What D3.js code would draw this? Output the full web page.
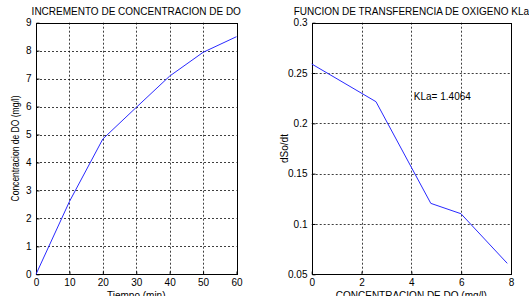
<!DOCTYPE html>
<html><head><meta charset="utf-8">
<script src="https://cdn.jsdelivr.net/npm/d3@7"></script>
<style>
html,body{margin:0;padding:0;background:#fff;}
svg{display:block;}
text{font-family:"Liberation Sans",Arial,Helvetica,sans-serif;fill:#000;}
</style></head><body>
<svg id="c" width="529" height="296"></svg>
<script>
// ---- data ----
const timeMin = [0, 10, 20, 30, 40, 50, 60];
const doConc = [0, 2.6, 4.84, 5.97, 7.09, 7.94, 8.5];
const leftXTicks = [0, 10, 20, 30, 40, 50, 60];
const leftYTicks = [0, 1, 2, 3, 4, 5, 6, 7, 8, 9];

const doX = [0, 2.58, 4.78, 5.99, 7.85];
const dSodt = [0.259, 0.2215, 0.1205, 0.1102, 0.0609];
const rightXTicks = [0, 2, 4, 6, 8];
const rightYTicks = [0.05, 0.1, 0.15, 0.2, 0.25, 0.3];
const rightYLabels = ["0.05", "0.1", "0.15", "0.2", "0.25", "0.3"];

const titles = ["INCREMENTO DE CONCENTRACION DE DO", "FUNCION DE TRANSFERENCIA DE OXIGENO KLa"];
const xLabels = ["Tiempo (min)", "CONCENTRACION DE DO (mg/l)"];
const yLabels = ["Concentracion de DO (mg/l)", "dSo/dt"];
const annotation = "KLa= 1.4064";

const svg = d3.select("#c");

function panel(cfg) {
  const x = d3.scaleLinear().domain(cfg.xDomain).range([cfg.x0, cfg.x1]);
  const y = d3.scaleLinear().domain(cfg.yDomain).range([cfg.y0, cfg.y1]);
  const g = svg.append("g");
  // grid
  g.append("g").selectAll("line").data(cfg.xTicks.slice(1, -1)).join("line")
    .attr("x1", d => Math.round(x(d)) + 0.5).attr("x2", d => Math.round(x(d)) + 0.5)
    .attr("y1", cfg.y1).attr("y2", cfg.y0)
    .attr("stroke", "#000").attr("stroke-width", 1).attr("stroke-dasharray", "2,2").attr("opacity", 0.75);
  g.append("g").selectAll("line").data(cfg.yTicks.slice(1, -1)).join("line")
    .attr("y1", d => Math.round(y(d)) + 0.5).attr("y2", d => Math.round(y(d)) + 0.5)
    .attr("x1", cfg.x0).attr("x2", cfg.x1)
    .attr("stroke", "#000").attr("stroke-width", 1).attr("stroke-dasharray", "2,2").attr("opacity", 0.75);
  // axes via d3 axis
  const ax = d3.axisBottom(x).tickValues(cfg.xTicks).tickSize(-3).tickPadding(6).tickFormat(d3.format("d"));
  const ay = d3.axisLeft(y).tickValues(cfg.yTicks).tickSize(-3).tickPadding(5).tickFormat((d, i) => cfg.yLabels[i]);
  const gx = g.append("g").attr("transform", `translate(0,${Math.round(cfg.y0) + 0.5})`).call(ax);
  const gy = g.append("g").attr("transform", `translate(${Math.round(cfg.x0) + 0.5},0)`).call(ay);
  [gx, gy].forEach(a => {
    a.select(".domain").remove();
    a.selectAll("line").attr("stroke", "#000");
    a.selectAll("text").attr("font-size", 10).attr("font-family", "Liberation Sans, Arial, sans-serif").attr("fill", "#000");
  });
  gx.selectAll("text").attr("dy", "0.5em");
  // box
  g.append("rect").attr("x", Math.round(cfg.x0) + 0.5).attr("y", Math.round(cfg.y1) + 0.5)
    .attr("width", Math.round(cfg.x1) - Math.round(cfg.x0)).attr("height", Math.round(cfg.y0) - Math.round(cfg.y1))
    .attr("fill", "none").attr("stroke", "#000").attr("stroke-width", 1);
  // line
  const line = d3.line().x(d => x(d[0])).y(d => y(d[1]));
  g.append("path").datum(cfg.xs.map((v, i) => [v, cfg.ys[i]]))
    .attr("d", line).attr("fill", "none").attr("stroke", "#2a2aff").attr("stroke-width", 1);
  // title
  const cx = (cfg.x0 + cfg.x1) / 2;
  g.append("text").attr("x", cx).attr("y", 15).attr("text-anchor", "middle").attr("font-size", 10).text(cfg.title);
  g.append("text").attr("x", cx).attr("y", 299).attr("text-anchor", "middle").attr("font-size", 10).text(cfg.xLabel);
  const yl = g.append("text").attr("transform", `translate(${cfg.yLabelX},${(cfg.y0 + cfg.y1) / 2}) rotate(-90)`)
    .attr("text-anchor", "middle").attr("font-size", 10).text(cfg.yLabel);
  if (cfg.yLabelLen) yl.attr("textLength", cfg.yLabelLen).attr("lengthAdjust", "spacingAndGlyphs");
  return {x, y, g};
}

panel({
  x0: 36, x1: 236.5, y0: 274.3, y1: 22.7,
  xDomain: [0, 60], yDomain: [0, 9],
  xTicks: leftXTicks, yTicks: leftYTicks, yLabels: leftYTicks.map(String),
  xs: timeMin, ys: doConc,
  title: titles[0], xLabel: xLabels[0], yLabel: yLabels[0], yLabelX: 19, yLabelLen: 106
});

const p2 = panel({
  x0: 311.7, x1: 511, y0: 274.3, y1: 22.7,
  xDomain: [0, 8], yDomain: [0.05, 0.3],
  xTicks: rightXTicks, yTicks: rightYTicks, yLabels: rightYLabels,
  xs: doX, ys: dSodt,
  title: titles[1], xLabel: xLabels[1], yLabel: yLabels[1], yLabelX: 288
});
p2.g.append("text").attr("x", p2.x(4.1)).attr("y", p2.y(0.227)).attr("dy", "0.35em")
  .attr("font-size", 10).text(annotation);
</script>
</body></html>
